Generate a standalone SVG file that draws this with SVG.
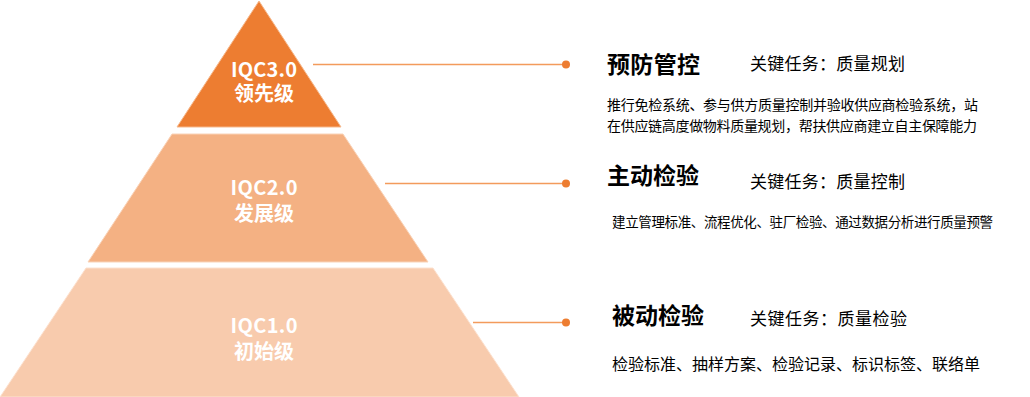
<svg xmlns="http://www.w3.org/2000/svg" width="1030" height="397" viewBox="0 0 1030 397">
<style>
.lvl{font-family:"Noto Sans CJK SC","Liberation Sans",sans-serif;font-weight:700;fill:#fff;text-anchor:middle}
.ttl{font-family:"Noto Sans CJK SC","Liberation Sans",sans-serif;font-weight:700;fill:#000;font-size:23px}
.key{font-family:"Noto Sans CJK SC","Liberation Sans",sans-serif;fill:#000;font-size:17px}
.desc{font-family:"Noto Sans CJK SC","Liberation Sans",sans-serif;fill:#000}
.conn{stroke:#F39B5C;stroke-width:1.3;fill:none}
.dot{fill:#ED7D31}
</style>
<rect width="1030" height="397" fill="#fff"/>
<g id="level3">
<polygon points="259,1 177,127 341,127" fill="#ED7D31" stroke="#F6B98D" stroke-width="1"/>
<text class="lvl" x="264" y="77" font-size="20" textLength="66">IQC3.0</text>
<text class="lvl" x="264" y="100.5" font-size="20">领先级</text>
</g>
<g id="level2">
<polygon points="172,134 343,134 428,262 88,262" fill="#F4B183" stroke="#F9D3B8" stroke-width="1"/>
<text class="lvl" x="264" y="194.5" font-size="20" textLength="67">IQC2.0</text>
<text class="lvl" x="264" y="220.5" font-size="20">发展级</text>
</g>
<g id="level1">
<polygon points="86,268 433,268 519,397 0,397" fill="#F8CBAD" stroke="#FCE2D0" stroke-width="1"/>
<text class="lvl" x="264" y="332.5" font-size="20" textLength="67">IQC1.0</text>
<text class="lvl" x="264" y="358.5" font-size="20">初始级</text>
</g>
<g id="connectors">
<line class="conn" x1="313" y1="64.5" x2="566" y2="64.5"/>
<circle class="dot" cx="566" cy="64.5" r="4"/>
<line class="conn" x1="385" y1="183.5" x2="566" y2="183.5"/>
<circle class="dot" cx="566" cy="183.5" r="4"/>
<line class="conn" x1="473" y1="322.5" x2="566" y2="322.5"/>
<circle class="dot" cx="566" cy="322.5" r="4"/>
</g>
<g id="desc3">
<text class="ttl" x="607" y="73" textLength="93">预防管控</text>
<text class="key" x="750" y="70" textLength="155">关键任务：质量规划</text>
<text class="desc" x="607" y="110" font-size="14" textLength="371">推行免检系统、参与供方质量控制并验收供应商检验系统，站</text>
<text class="desc" x="607" y="131" font-size="14" textLength="370">在供应链高度做物料质量规划，帮扶供应商建立自主保障能力</text>
</g>
<g id="desc2">
<text class="ttl" x="607" y="184" textLength="92">主动检验</text>
<text class="key" x="750" y="188" textLength="155">关键任务：质量控制</text>
<text class="desc" x="612" y="227" font-size="13.5" textLength="381">建立管理标准、流程优化、驻厂检验、通过数据分析进行质量预警</text>
</g>
<g id="desc1">
<text class="ttl" x="612" y="324" textLength="92">被动检验</text>
<text class="key" x="750" y="325" textLength="157">关键任务：质量检验</text>
<text class="desc" x="612" y="370" font-size="16" textLength="368">检验标准、抽样方案、检验记录、标识标签、联络单</text>
</g>
</svg>
